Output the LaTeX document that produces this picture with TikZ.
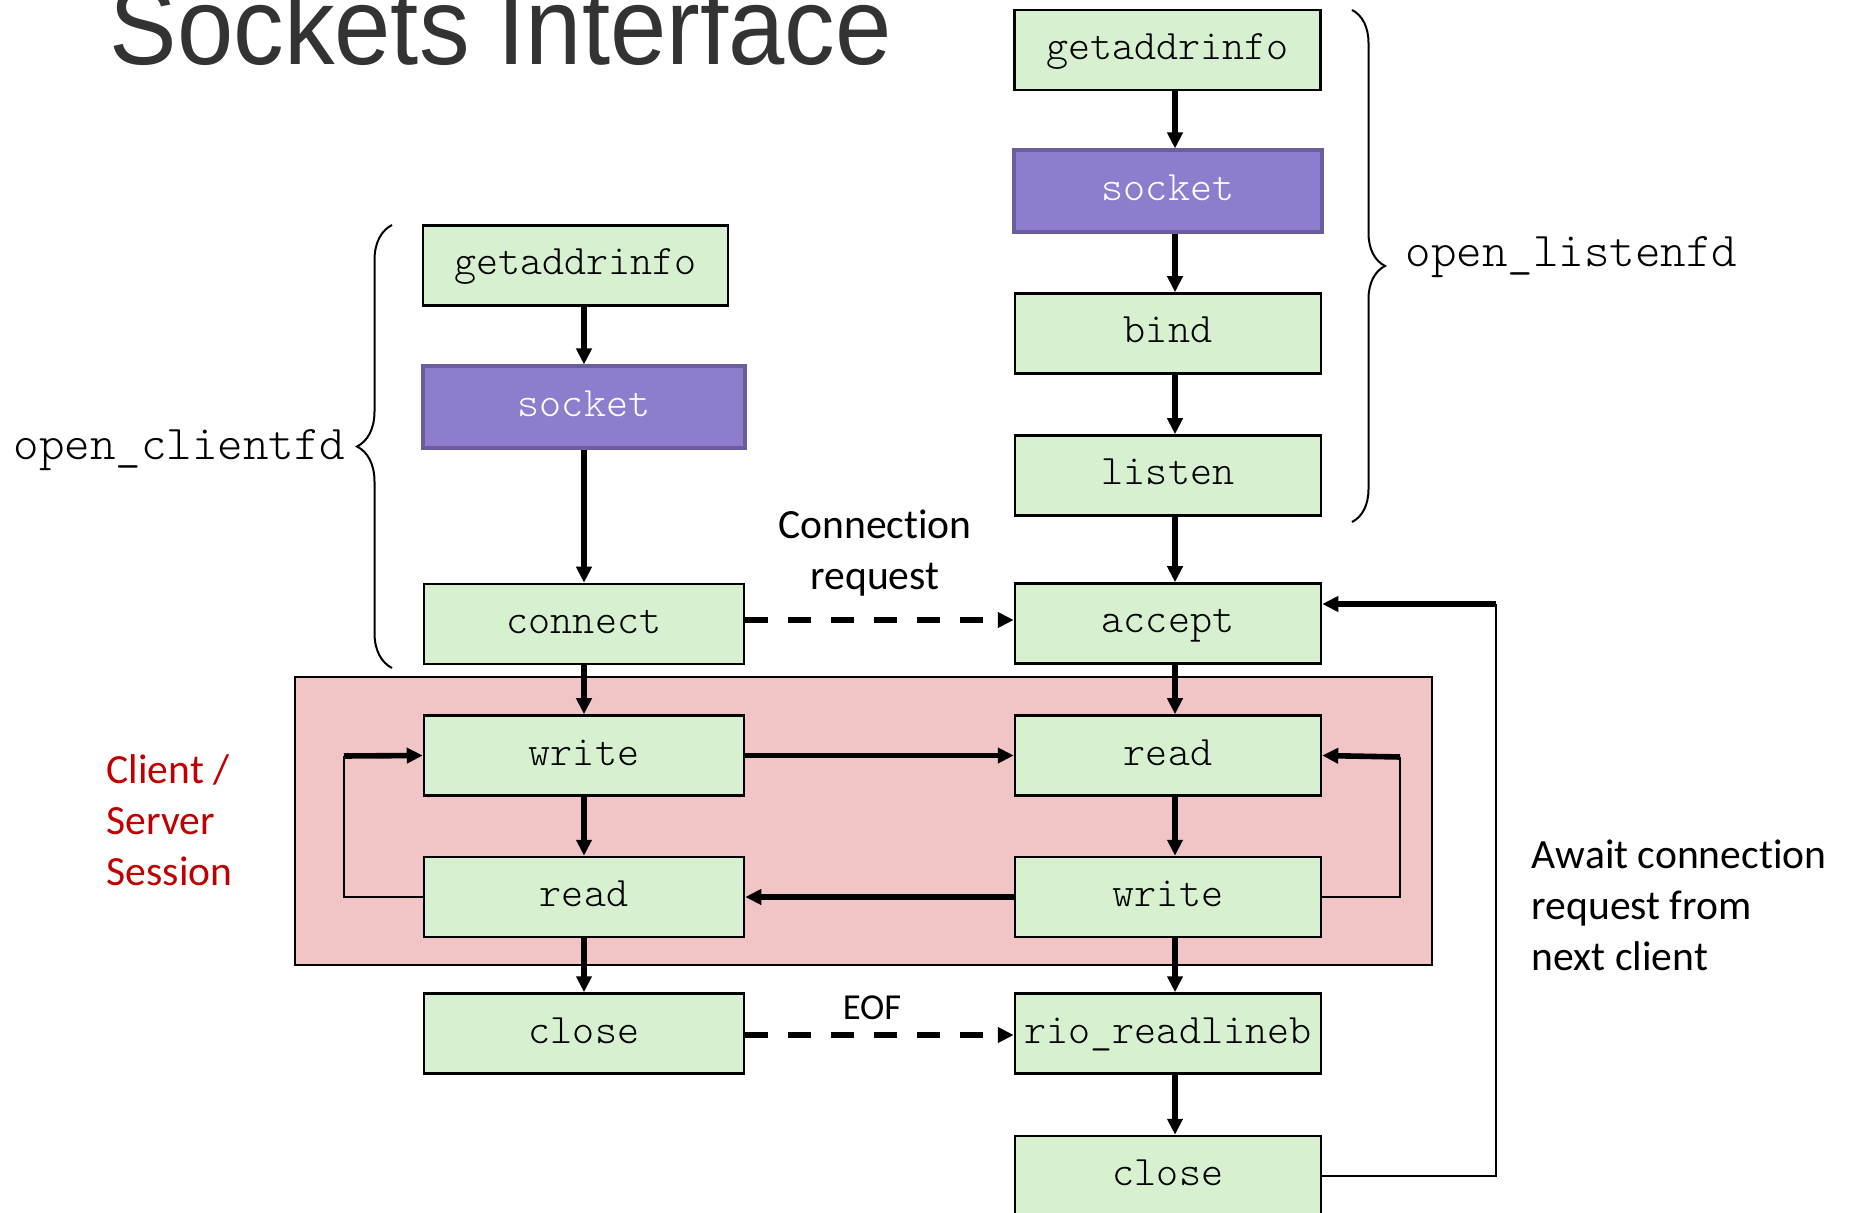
\documentclass[tikz,border=0pt]{standalone}
\usepackage{fontspec}
\setmainfont{Carlito}[Ligatures=NoCommon]
\newfontfamily\codefont{lmmonolt10-regular.otf}
\newfontfamily\titlefont{Liberation Sans}
\usetikzlibrary{arrows.meta,decorations.pathreplacing}

\definecolor{boxgreen}{RGB}{214,240,208}
\definecolor{sockpurple}{RGB}{142,124,205}
\definecolor{sockedge}{RGB}{110,93,158}
\definecolor{sessionpink}{RGB}{241,197,198}
\definecolor{sessionred}{RGB}{192,0,0}
\definecolor{titlegray}{RGB}{51,51,51}

\tikzset{every picture/.style={line width=0.75pt}}

\begin{document}
\begin{tikzpicture}[x=0.5pt,y=0.5pt,yscale=-1,xscale=1,
  fnbox/.style={draw, fill=boxgreen, line width=1.25pt, inner sep=0pt,
    minimum width=160pt, minimum height=40pt,
    font=\codefont\fontsize{21}{25}\selectfont, text height=12pt, text depth=2.5pt},
  sockbox/.style={fnbox, fill=sockpurple, draw=sockedge, line width=2pt, text=white, minimum height=41pt},
  arr/.style={line width=2.8pt, -{Triangle[length=8pt,width=7.5pt]}},
  dasharr/.style={arr, dash pattern=on 11.5pt off 10pt},
  thinln/.style={line width=1pt},
  bracedeco/.style={decorate, line width=1pt},
  codelbl/.style={inner sep=0pt, font=\codefont\fontsize{24.3}{28}\selectfont},
  notelbl/.style={inner sep=0pt, align=left, font=\fontsize{20.8}{25.5}\selectfont}
]
\useasboundingbox (0,0) rectangle (1853,1213);

%Shape: Rectangle [session]
\draw [fill=sessionpink, line width=1.2pt] (295,677) rectangle (1432,965);

% Title
\node [anchor=base west, inner sep=0pt, xscale=0.92, text=titlegray,
  font=\titlefont\fontsize{55}{60}\selectfont] (ttl) at (109,65) {Sockets Interface};

% Client boxes
\node [fnbox, minimum width=152.5pt] (gaL) at (575.5,265.5) {getaddrinfo};
\node [sockbox, minimum width=161pt] (skL) at (584,407.5) {socket};
\node [fnbox] (cnL) at (584,624) {connect};
\node [fnbox] (wrL) at (584,755.5) {write};
\node [fnbox] (rdL) at (584,897) {read};
\node [fnbox] (clL) at (584,1033.5) {close};

% Server boxes
\node [fnbox, minimum width=153pt] (gaR) at (1167.5,50) {getaddrinfo};
\node [sockbox, minimum width=154pt] (skR) at (1168,191.5) {socket};
\node [fnbox, minimum width=153pt] (bdR) at (1168,333.5) {bind};
\node [fnbox, minimum width=153pt] (lsR) at (1168,475.5) {listen};
\node [fnbox, minimum width=153pt] (acR) at (1168,623.5) {accept};
\node [fnbox, minimum width=153pt] (rdR) at (1168,755.5) {read};
\node [fnbox, minimum width=153pt] (wrR) at (1168,897) {write};
\node [fnbox, minimum width=153pt] (rlR) at (1168,1033.5) {rio\_readlineb};
\node [fnbox, minimum width=153pt] (clR) at (1168,1176) {close};

% Arrow columns and loop corners
\coordinate (colL) at (584,0);
\coordinate (colR) at (1175,0);
\coordinate (dashC) at (0,620);
\coordinate (dashE) at (0,1035);
\coordinate (lpL) at (344,756);
\coordinate (lpR) at (1400,757);
\coordinate (lpO) at (1496,604);

%Straight Lines: client column
\draw [arr] (gaL.south -| colL) -- (skL.north -| colL);
\draw [arr] (skL.south) -- (cnL.north);
\draw [arr] (cnL.south) -- (wrL.north);
\draw [arr] (wrL.south) -- (rdL.north);
\draw [arr] (rdL.south) -- (clL.north);

%Straight Lines: server column
\draw [arr] (gaR.south -| colR) -- (skR.north -| colR);
\draw [arr] (skR.south -| colR) -- (bdR.north -| colR);
\draw [arr] (bdR.south -| colR) -- (lsR.north -| colR);
\draw [arr] (lsR.south -| colR) -- (acR.north -| colR);
\draw [arr] (acR.south -| colR) -- (rdR.north -| colR);
\draw [arr] (rdR.south -| colR) -- (wrR.north -| colR);
\draw [arr] (wrR.south -| colR) -- (rlR.north -| colR);
\draw [arr] (rlR.south -| colR) -- (clR.north -| colR);

%Straight Lines: between client and server
\draw [dasharr] (dashC -| cnL.east) -- (dashC -| acR.west);
\draw [arr] (wrL.east) -- (rdR.west);
\draw [arr] (wrR.west) -- (rdL.east);
\draw [dasharr] (dashE -| clL.east) -- (dashE -| rlR.west);

%Loops
\draw [thinln] (rdL.west) -| (lpL);
\draw [arr] (lpL) -- (wrL.west);
\draw [thinln] (wrR.east) -| (lpR);
\draw [arr] (lpR) -- (rdR.east);
\draw [thinln] (clR.east) -| (lpO);
\draw [arr] (lpO) -- (lpO -| acR.east);

%Braces
\draw [bracedeco, decoration={brace, amplitude=17.5pt}] (392,668) -- (392,225);
\draw [bracedeco, decoration={brace, amplitude=16.5pt}] (1352,10) -- (1352,522);

% Text Node
\node [codelbl, anchor=base east] (ocfd) at (346,460) {open\_clientfd};
% Text Node
\node [codelbl, anchor=base west] (olfd) at (1405,267) {open\_listenfd};
% Text Node
\node [notelbl, align=center] (creq) at (875,553) {Connection\\request};
% Text Node
\node [notelbl, font=\fontsize{18.3}{22}\selectfont] (eof) at (872,1008) {EOF};
% Text Node
\node [notelbl, anchor=west, text=sessionred] (sess) at (106,820) {Client /\\Server\\Session};
% Text Node
\node [notelbl, anchor=west] (await) at (1531,905) {Await connection\\request from\\next client};

\end{tikzpicture}
\end{document}
